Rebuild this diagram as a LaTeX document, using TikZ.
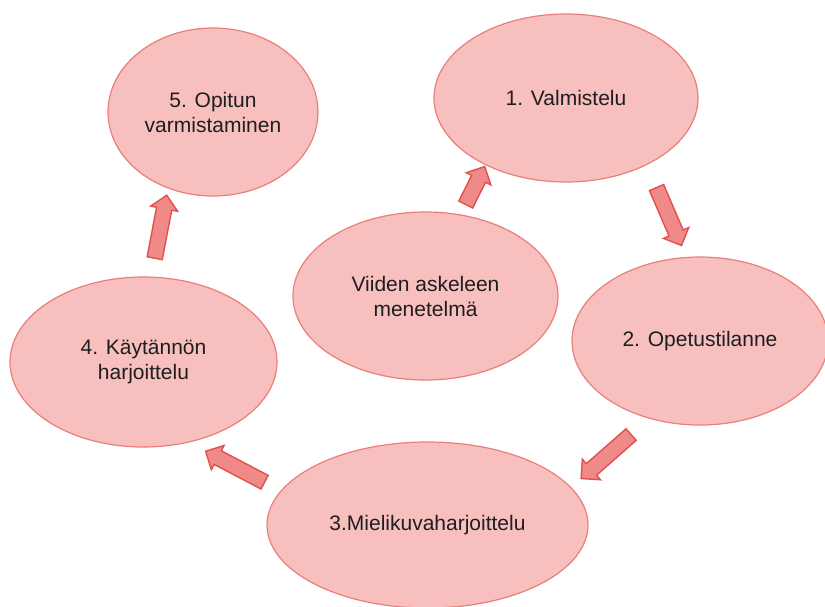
\documentclass[tikz,border=0pt]{standalone}
\usepackage{fontspec}
\setmainfont{Liberation Sans}
\usetikzlibrary{shapes.geometric,shapes.arrows,calc}
\definecolor{ellfill}{HTML}{F7C0BF}
\definecolor{elldraw}{HTML}{EA7E7B}
\definecolor{arrfill}{HTML}{EF8A88}
\definecolor{arrdraw}{HTML}{E2504D}
\definecolor{txt}{HTML}{1E1E1E}
\tikzset{
  stepell/.style={ellipse, draw=elldraw, fill=ellfill, line width=1.2pt, inner sep=0pt,
    align=center, text=txt, font=\fontsize{21}{25}\selectfont},
  barrow/.style={single arrow, draw=arrdraw, fill=arrfill, line width=1.4pt,
    minimum width=26pt, single arrow head extend=6pt, single arrow head indent=0pt,
    inner xsep=0pt, inner ysep=7pt, font=\fontsize{1}{1}\selectfont},
}
\newcommand\blockarrow[2]{%
  \path let \p1=($(#2)-(#1)$), \n1={atan2(\y1,\x1)}, \n2={veclen(\x1,\y1)} in
    node[barrow, minimum height=\n2, rotate=\n1] at ($(#1)!0.5!(#2)$) {};
}
\begin{document}
\begin{tikzpicture}[x=1pt,y=-1pt]
\useasboundingbox (0,0) rectangle (825,606);
\node[stepell, minimum width=210pt, minimum height=168pt] (s5) at (213,112) {5. Opitun\\varmistaminen};
\node[stepell, minimum width=264pt, minimum height=168pt] (s1) at (566,98) {1. Valmistelu};
\node[stepell, minimum width=265pt, minimum height=168pt] (c) at (425.5,296) {Viiden askeleen\\menetelmä};
\node[stepell, minimum width=256pt, minimum height=168pt] (s2) at (700,341) {2. Opetustilanne};
\node[stepell, minimum width=267pt, minimum height=170pt] (s4) at (143.5,362) {4. Käytännön\\harjoittelu};
\node[stepell, minimum width=321pt, minimum height=166pt] (s3) at (427.5,525) {3.Mielikuvaharjoittelu};
\coordinate (a1t) at (464,208); \coordinate (a1h) at (483,170);
\coordinate (a2t) at (655,184); \coordinate (a2h) at (680,242);
\coordinate (a3t) at (634,432); \coordinate (a3h) at (584,476);
\coordinate (a4t) at (268,484); \coordinate (a4h) at (209,453);
\coordinate (a5t) at (154,262); \coordinate (a5h) at (166,199);
\blockarrow{a1t}{a1h}
\blockarrow{a2t}{a2h}
\blockarrow{a3t}{a3h}
\blockarrow{a4t}{a4h}
\blockarrow{a5t}{a5h}
\end{tikzpicture}
\end{document}
